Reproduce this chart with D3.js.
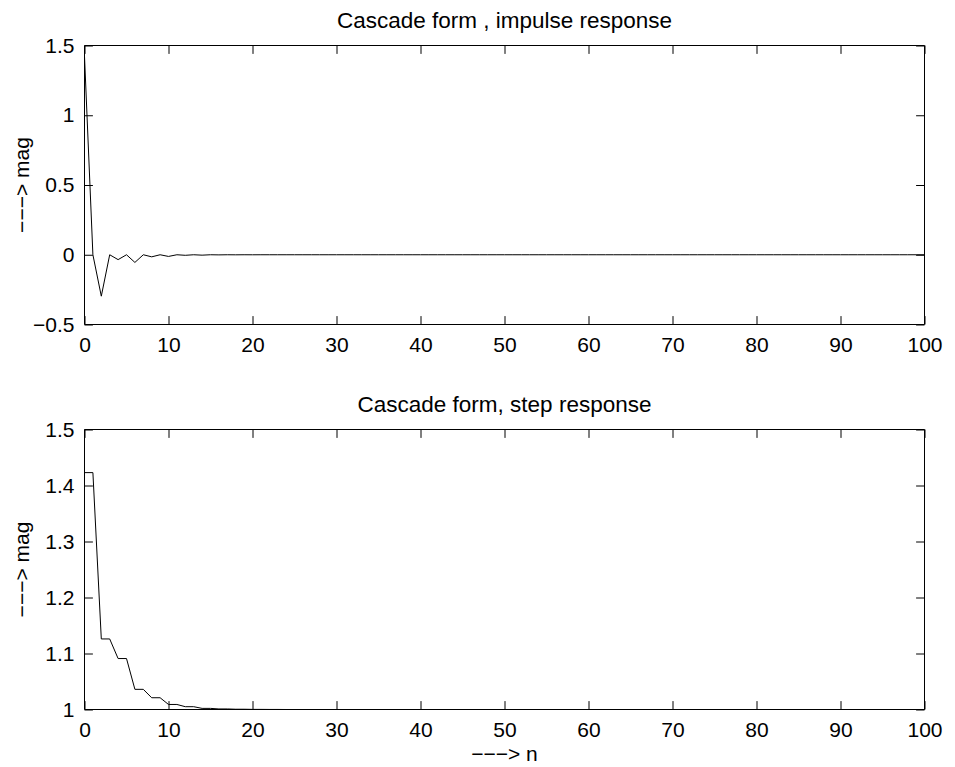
<!DOCTYPE html>
<html><head><meta charset="utf-8">
<script src="https://cdn.jsdelivr.net/npm/d3@7"></script>
<style>
html,body{margin:0;padding:0;background:#fff;}
text{font-family:"Liberation Sans",Arial,Helvetica,sans-serif;fill:#000;}
</style></head>
<body>
<svg id="chart" width="955" height="767"></svg>
<script>
// ---------- data ----------
const nValues = d3.range(0, 101); // sample index n = 0..100
const impulseResponse = [
  1.423, 0, -0.297, 0, -0.035, 0, -0.055, 0, -0.015, 0,
  -0.012, 0, -0.004, 0, -0.003, 0, -0.001, 0, -0.0005, 0,
  -0.0003, 0, -0.0001, 0, 0, 0, 0, 0, 0, 0,
  0, 0, 0, 0, 0, 0, 0, 0, 0, 0,
  0, 0, 0, 0, 0, 0, 0, 0, 0, 0,
  0, 0, 0, 0, 0, 0, 0, 0, 0, 0,
  0, 0, 0, 0, 0, 0, 0, 0, 0, 0,
  0, 0, 0, 0, 0, 0, 0, 0, 0, 0,
  0, 0, 0, 0, 0, 0, 0, 0, 0, 0,
  0, 0, 0, 0, 0, 0, 0, 0, 0, 0,
  0
];
const stepResponse = [
  1.423, 1.423, 1.126, 1.126, 1.091, 1.091, 1.036, 1.036, 1.021, 1.021,
  1.009, 1.009, 1.005, 1.005, 1.002, 1.002, 1.001, 1.001, 1.0005, 1.0005,
  1.0002, 1.0002, 1.0001, 1.0001, 1, 1, 1, 1, 1, 1,
  1, 1, 1, 1, 1, 1, 1, 1, 1, 1,
  1, 1, 1, 1, 1, 1, 1, 1, 1, 1,
  1, 1, 1, 1, 1, 1, 1, 1, 1, 1,
  1, 1, 1, 1, 1, 1, 1, 1, 1, 1,
  1, 1, 1, 1, 1, 1, 1, 1, 1, 1,
  1, 1, 1, 1, 1, 1, 1, 1, 1, 1,
  1, 1, 1, 1, 1, 1, 1, 1, 1, 1,
  1
];
const xTicks = [0, 10, 20, 30, 40, 50, 60, 70, 80, 90, 100];
const impulseYTicks = [-0.5, 0, 0.5, 1, 1.5];
const stepYTicks = [1, 1.1, 1.2, 1.3, 1.4, 1.5];
const titles = ["Cascade form , impulse response", "Cascade form, step response"];
const yLabel = "\u2212\u2212\u2212> mag";
const xLabel = "\u2212\u2212\u2212> n";

// ---------- drawing ----------
const svg = d3.select("#chart");
const left = 84.5, right = 924.5;
const tickLen = 8.4;
const fmt = v => {
  let s = String(+v.toFixed(2));
  return s.replace("-", "\u2212");
};

function panel(cfg) {
  const x = d3.scaleLinear().domain([0, 100]).range([left, right]);
  const y = d3.scaleLinear().domain(cfg.yDomain).range([cfg.bottom, cfg.top]);
  const g = svg.append("g");

  // data line
  const line = d3.line().x((d, i) => x(nValues[i])).y(d => y(d));
  g.append("path").datum(cfg.values)
    .attr("d", line).attr("fill", "none").attr("stroke", "#000").attr("stroke-width", 1);

  // axes (MATLAB-style, inward ticks, boxed)
  const axB = d3.axisBottom(x).tickValues(xTicks).tickSize(-tickLen).tickPadding(13).tickFormat(fmt);
  const axT = d3.axisTop(x).tickValues(xTicks).tickSize(-tickLen).tickFormat("");
  const axL = d3.axisLeft(y).tickValues(cfg.yTicks).tickSize(-tickLen).tickPadding(10).tickFormat(fmt);
  const axR = d3.axisRight(y).tickValues(cfg.yTicks).tickSize(-tickLen).tickFormat("");

  const styleAxis = sel => {
    sel.select(".domain").attr("stroke", "#000").attr("stroke-width", 1);
    sel.selectAll(".tick line").attr("stroke", "#000").attr("stroke-width", 1);
    sel.selectAll("text").attr("font-size", 21).attr("font-family", "Liberation Sans, Arial, sans-serif").attr("fill", "#000");
  };
  const gb = g.append("g").attr("transform", `translate(0,${cfg.bottom})`).call(axB).call(styleAxis);
  gb.selectAll(".domain").attr("d", `M${left},0H${right}`);
  const gt = g.append("g").attr("transform", `translate(0,${cfg.top})`).call(axT).call(styleAxis);
  gt.selectAll(".domain").attr("d", `M${left},0H${right}`);
  const gl = g.append("g").attr("transform", `translate(${left},0)`).call(axL).call(styleAxis);
  gl.selectAll(".domain").attr("d", `M0,${cfg.top}V${cfg.bottom}`);
  const gr = g.append("g").attr("transform", `translate(${right},0)`).call(axR).call(styleAxis);
  gr.selectAll(".domain").attr("d", `M0,${cfg.top}V${cfg.bottom}`);

  // title
  g.append("text").attr("x", (left + right) / 2).attr("y", cfg.top - 18)
    .attr("text-anchor", "middle").attr("font-size", 22.5).text(cfg.title);

  // y label
  g.append("text")
    .attr("transform", `translate(29,${(cfg.top + cfg.bottom) / 2}) rotate(-90)`)
    .attr("text-anchor", "middle").attr("font-size", 21).text(yLabel);

  if (cfg.xLabel) {
    g.append("text").attr("x", (left + right) / 2).attr("y", cfg.bottom + 51)
      .attr("text-anchor", "middle").attr("font-size", 21).text(cfg.xLabel);
  }
}

panel({ values: impulseResponse, yDomain: [-0.5, 1.5], yTicks: impulseYTicks,
        top: 45.5, bottom: 324.5, title: titles[0] });
panel({ values: stepResponse, yDomain: [1, 1.5], yTicks: stepYTicks,
        top: 429.5, bottom: 709.5, title: titles[1], xLabel: xLabel });
</script>
</body></html>
